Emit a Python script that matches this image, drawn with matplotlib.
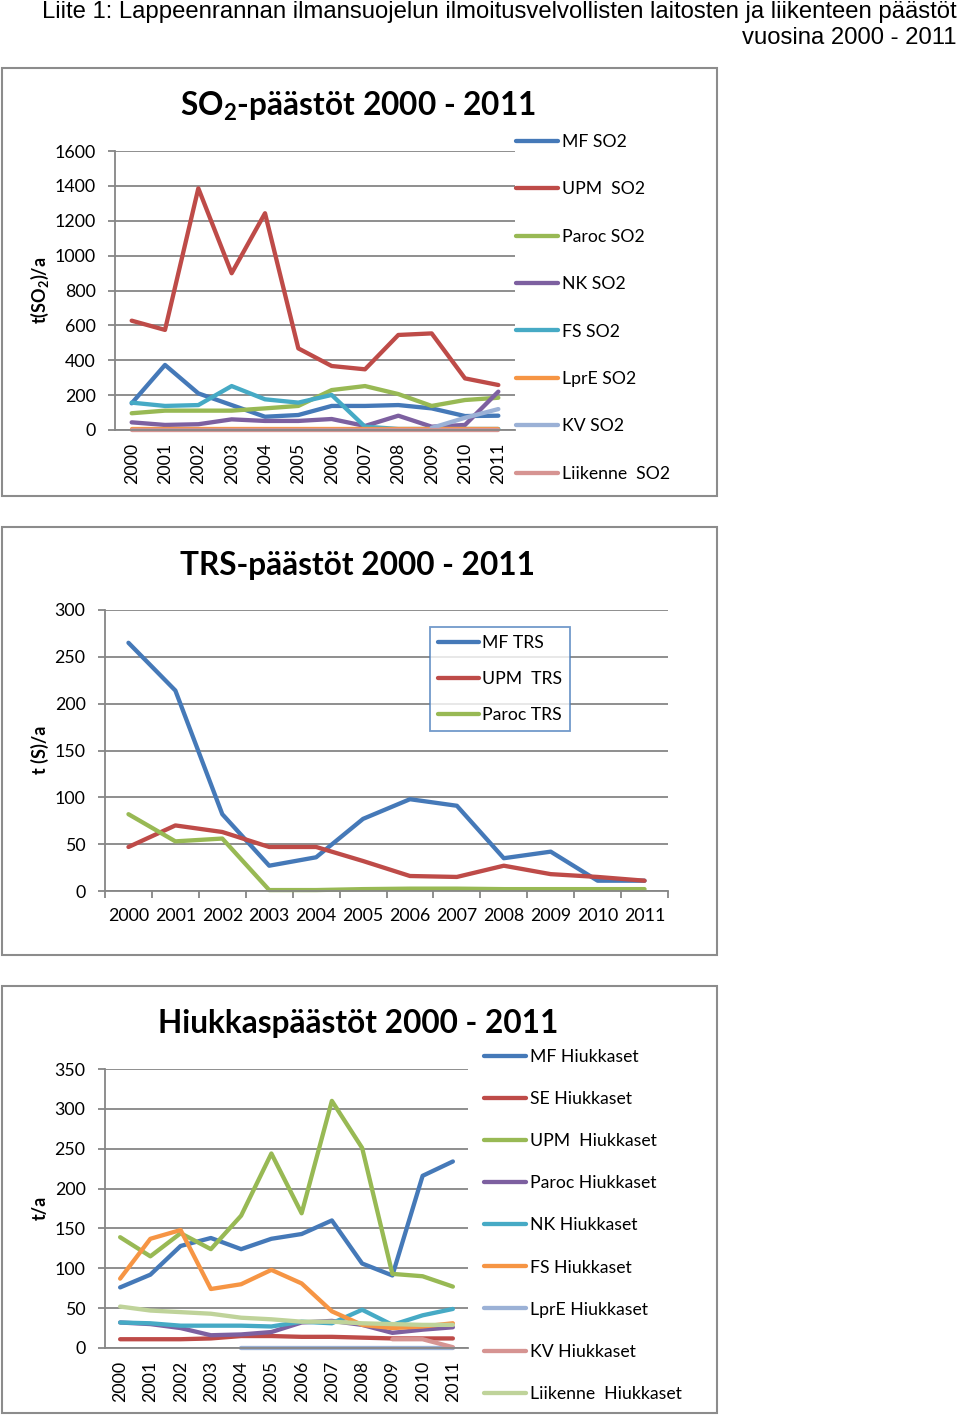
import numpy as np
import matplotlib
matplotlib.use('Agg')
import matplotlib.pyplot as plt
from matplotlib.patches import Rectangle

plt.rcParams['font.family'] = ['Lato', 'DejaVu Sans']
plt.rcParams['mathtext.fontset'] = 'custom'
plt.rcParams['mathtext.rm'] = 'Lato:bold'
plt.rcParams['mathtext.default'] = 'rm'

W, H = 960, 1417
nan = np.nan

years = ['2000', '2001', '2002', '2003', '2004', '2005',
         '2006', '2007', '2008', '2009', '2010', '2011']

# SO2 emissions, t/a
so2_labels = ['MF SO2', 'UPM  SO2', 'Paroc SO2', 'NK SO2', 'FS SO2',
              'LprE SO2', 'KV SO2', 'Liikenne  SO2']
so2_mf = [153, 373, 210, 143, 76, 86, 138, 138, 143, 124, 80, 82]
so2_upm = [627, 574, 1386, 899, 1243, 468, 367, 348, 545, 554, 296, 258]
so2_paroc = [96, 111, 111, 111, 124, 138, 229, 252, 206, 138, 172, 185]
so2_nk = [44, 29, 33, 61, 52, 52, 63, 23, 82, 19, 29, 220]
so2_fs = [157, 138, 143, 252, 176, 157, 201, 19, 6, 6, 6, 6]
so2_lpre = [3, 3, 3, 3, 3, 3, 3, 3, 3, 3, 3, 3]
so2_kv = [nan, nan, nan, nan, nan, nan, nan, nan, nan, 12, 70, 120]
so2_liikenne = [2, 2, 2, 2, 2, 2, 2, 2, 2, 2, 2, 2]

# TRS emissions, t(S)/a
trs_labels = ['MF TRS', 'UPM  TRS', 'Paroc TRS']
trs_mf = [265, 214, 82, 27, 36, 77, 98, 91, 35, 42, 11, 11]
trs_upm = [47, 70, 63, 47, 47, 32, 16, 15, 27, 18, 15, 11]
trs_paroc = [82, 53, 56, 1, 1, 2, 2.5, 2.5, 2, 2, 2, 2]

# particle emissions, t/a
h_labels = ['MF Hiukkaset', 'SE Hiukkaset', 'UPM  Hiukkaset', 'Paroc Hiukkaset',
            'NK Hiukkaset', 'FS Hiukkaset', 'LprE Hiukkaset', 'KV Hiukkaset',
            'Liikenne  Hiukkaset']
h_mf = [76, 92, 128, 138, 124, 137, 143, 160, 106, 91, 216, 234]
h_se = [11, 11, 11, 12, 15, 15, 14, 14, 13, 12, 12, 12]
h_upm = [139, 115, 144, 124, 166, 244, 169, 310, 251, 93, 90, 77]
h_paroc = [32, 30, 25, 16, 17, 20, 32, 34, 29, 19, 23, 26]
h_nk = [32, 31, 28, 28, 28, 27, 33, 31, 48, 29, 41, 49]
h_fs = [87, 137, 148, 74, 80, 98, 81, 46, 29, 25, 27, 31]
h_lpre = [nan, nan, nan, nan, 0, 0, 0, 0, 0, 0, 0, 0]
h_kv = [nan, nan, nan, nan, nan, nan, nan, nan, nan, 11, 11, 1]
h_liikenne = [52, 47, 45, 43, 38, 36, 33, 33, 31, 30, 29, 29]

BLUE, RED, GREEN, PURPLE = '#4579B8', '#BE4B48', '#98B954', '#7D60A0'
TEAL, ORANGE, LBLUE, PINK, LGREEN = '#46AAC5', '#F69544', '#9BB1D6', '#D69492', '#BFD39A'
GRID = '#868686'
LW = 3.1


def px_axes(fig, x0, y0, x1, y1):
    return fig.add_axes([x0 / W, 1 - y1 / H, (x1 - x0) / W, (y1 - y0) / H])


def box(fig, x0, y0, x1, y1):
    fig.add_artist(Rectangle((x0 / W, 1 - y1 / H), (x1 - x0) / W, (y1 - y0) / H,
                             transform=fig.transFigure, fill=False,
                             ec='#8C8C8C', lw=1.5))


def style(ax, ymax, ystep):
    ax.set_xlim(-0.5, 11.5)
    ax.set_ylim(0, ymax)
    ax.set_yticks(np.arange(0, ymax + 1, ystep))
    ax.yaxis.grid(True, color=GRID, lw=1.3)
    ax.set_axisbelow(True)
    for s in ('top', 'right'):
        ax.spines[s].set_visible(False)
    for s in ('left', 'bottom'):
        ax.spines[s].set_color(GRID)
        ax.spines[s].set_linewidth(1.3)
    ax.tick_params(axis='y', length=5, color=GRID, width=1.3, labelsize=12.8, pad=9)
    ax.tick_params(axis='x', length=0, labelsize=12.8, pad=9)
    ax.set_xticks(range(len(years)))


fig = plt.figure(figsize=(W / 100, H / 100), dpi=100)

fig.text(957 / W, 1 - 1 / H,
         'Liite 1: Lappeenrannan ilmansuojelun ilmoitusvelvollisten laitosten ja liikenteen päästöt\n'
         'vuosina 2000 - 2011',
         ha='right', va='top', multialignment='right', fontsize=17.2,
         family='Liberation Sans', linespacing=1.22)

# --- SO2 chart ---
box(fig, 2, 68, 717, 496)
ax1 = px_axes(fig, 115, 151, 515, 430)
style(ax1, 1600, 200)
x = np.arange(len(years))
so2_series = [so2_mf, so2_upm, so2_paroc, so2_nk, so2_fs, so2_lpre, so2_kv, so2_liikenne]
so2_colors = [BLUE, RED, GREEN, PURPLE, TEAL, ORANGE, LBLUE, PINK]
for vals, c, lab in zip(so2_series, so2_colors, so2_labels):
    ax1.plot(x, vals, color=c, lw=LW, label=lab, clip_on=False, solid_capstyle='round')
ax1.set_xticklabels(years, rotation=90)
ax1.legend(loc='upper left', bbox_to_anchor=(516 / W, 1 - 134 / H),
           bbox_transform=fig.transFigure, frameon=False, fontsize=12.7,
           labelspacing=1.78, handlelength=2.4, handletextpad=0.2,
           borderaxespad=0, borderpad=0)
fig.text(358 / W, 1 - 106 / H, 'SO$_2$-päästöt 2000 - 2011', ha='center', va='center',
         fontsize=22.8, weight='bold')
fig.text(40 / W, 1 - 290 / H, 't(SO$_2$)/a', rotation=90, ha='center', va='center',
         fontsize=13, weight='bold')

# --- TRS chart ---
box(fig, 2, 527, 717, 955)
ax2 = px_axes(fig, 105, 610, 668, 891)
style(ax2, 300, 50)
for vals, c, lab in zip([trs_mf, trs_upm, trs_paroc], [BLUE, RED, GREEN], trs_labels):
    ax2.plot(x, vals, color=c, lw=LW, label=lab, clip_on=False, solid_capstyle='round')
ax2.set_xticklabels(years)
ax2.set_xticks(np.arange(-0.5, 12, 1), minor=True)
ax2.tick_params(axis='x', which='minor', length=5, color=GRID, width=1.3)
ax2.tick_params(axis='x', which='major', pad=12)
leg2 = ax2.legend(loc='upper left', bbox_to_anchor=(430 / W, 1 - 627 / H),
                  bbox_transform=fig.transFigure, frameon=True, fancybox=False,
                  fontsize=12.7, labelspacing=1.14, handlelength=2.3,
                  handletextpad=0.2, borderaxespad=0, borderpad=0.45)
leg2.get_frame().set_edgecolor('#4F81BD')
leg2.get_frame().set_linewidth(1.3)
fig.text(358 / W, 1 - 565 / H, 'TRS-päästöt 2000 - 2011', ha='center', va='center',
         fontsize=22.8, weight='bold')
fig.text(40 / W, 1 - 750 / H, 't (S)/a', rotation=90, ha='center', va='center',
         fontsize=13, weight='bold')

# --- particle chart ---
box(fig, 2, 986, 717, 1413)
ax3 = px_axes(fig, 105, 1069, 468, 1348)
style(ax3, 350, 50)
h_series = [h_mf, h_se, h_upm, h_paroc, h_nk, h_fs, h_lpre, h_kv, h_liikenne]
h_colors = [BLUE, RED, GREEN, PURPLE, TEAL, ORANGE, LBLUE, PINK, LGREEN]
for vals, c, lab in zip(h_series, h_colors, h_labels):
    ax3.plot(x, vals, color=c, lw=LW, label=lab, clip_on=False, solid_capstyle='round')
ax3.set_xticklabels(years, rotation=90)
ax3.legend(loc='upper left', bbox_to_anchor=(484 / W, 1 - 1049 / H),
           bbox_transform=fig.transFigure, frameon=False, fontsize=12.7,
           labelspacing=1.48, handlelength=2.4, handletextpad=0.2,
           borderaxespad=0, borderpad=0)
fig.text(358 / W, 1 - 1023 / H, 'Hiukkaspäästöt 2000 - 2011', ha='center', va='center',
         fontsize=22.8, weight='bold')
fig.text(40 / W, 1 - 1208 / H, 't/a', rotation=90, ha='center', va='center',
         fontsize=13, weight='bold')

fig.savefig('out.png', dpi=100)
